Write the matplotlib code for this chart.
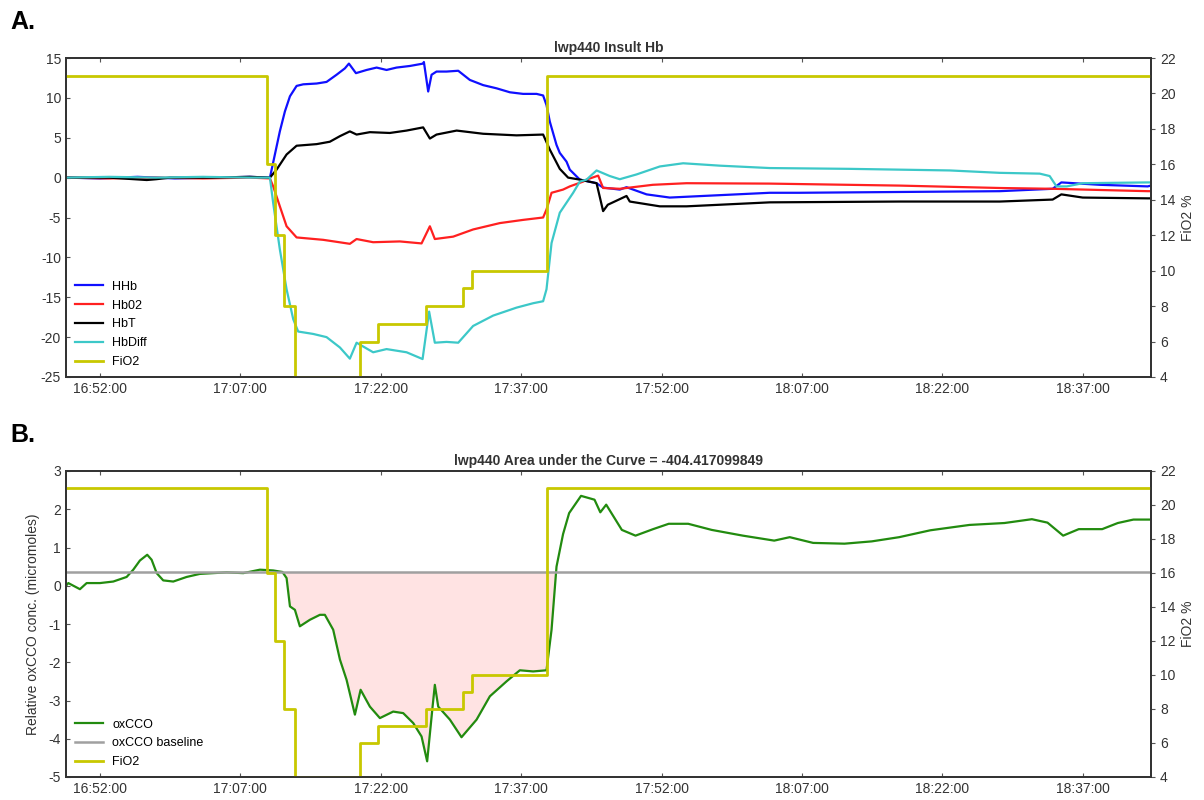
import numpy as np
import pandas as pd
import matplotlib
matplotlib.use('Agg')
import matplotlib.pyplot as plt
import matplotlib.dates as mdates

plt.rcParams['font.family'] = ['Liberation Sans', 'DejaVu Sans']
plt.rcParams['axes.unicode_minus'] = False

# время отсчитываем в минутах от 16:48:00
t0 = pd.Timestamp('2016-01-01 16:48:00')

# FiO2, ступеньки (минута начала ступени, значение %)
fio2_t = [0.37, 21.86, 22.72, 23.71, 24.80, 31.77, 33.74, 38.81, 42.80, 43.76, 51.77, 116.3]
fio2_v = [21, 16, 12, 8, 4, 6, 7, 8, 9, 10, 21, 21]

# HHb
hhb_t = [0.37, 4.0, 8.0, 12.0, 16.0, 20.0, 22.16, 22.69, 23.22, 23.76, 24.30, 25.01, 25.72,
         27.15, 28.21, 29.28, 30.17, 30.60, 31.35, 32.49, 33.56, 34.62, 35.69, 37.11, 38.53,
         38.61, 39.07, 39.43, 39.96, 41.03, 42.28, 43.52, 44.94, 46.37, 47.80, 49.21, 50.65,
         51.35, 51.71, 52.07, 52.78, 53.13, 53.85, 54.20, 55.27, 57.06, 57.76, 59.54, 60.26,
         62.40, 64.88, 68.41, 72.01, 75.57, 78.78, 89.46, 100.13, 105.79, 106.72, 110.82,
         115.94, 116.3]
hhb_v = [0.0, -0.1, 0.1, -0.1, 0.0, 0.1, 0.0, 2.9, 5.8, 8.3, 10.2, 11.5, 11.7,
         11.8, 12.0, 12.9, 13.7, 14.3, 13.1, 13.5, 13.8, 13.5, 13.8, 14.0, 14.3,
         14.5, 10.8, 12.9, 13.3, 13.3, 13.4, 12.25, 11.6, 11.2, 10.7, 10.5, 10.5,
         10.3, 9.1, 7.0, 4.1, 3.1, 2.0, 1.0, -0.25, -0.7, -1.25, -1.5, -1.2,
         -2.1, -2.5, -2.3, -2.1, -1.9, -1.9, -1.8, -1.7, -1.4, -0.6, -0.9,
         -1.1, -1.0]

# HbO2
hbo2_t = [0.37, 5.0, 10.0, 15.0, 20.0, 22.16, 22.51, 23.22, 23.94, 25.01, 27.85, 29.0,
          30.70, 31.42, 33.19, 36.04, 38.36, 39.25, 39.78, 41.74, 43.87, 46.73, 49.21,
          51.35, 51.71, 52.25, 53.48, 54.20, 55.62, 55.99, 57.23, 57.76, 59.54, 63.07,
          66.67, 75.57, 89.46, 100.13, 105.79, 115.94, 116.3]
hbo2_v = [0.0, -0.1, 0.0, -0.1, 0.0, -0.1, -1.1, -3.6, -6.1, -7.5, -7.8, -8.0,
          -8.3, -7.7, -8.1, -8.0, -8.25, -6.1, -7.7, -7.4, -6.5, -5.7, -5.3,
          -5.0, -4.0, -1.9, -1.5, -1.1, -0.5, -0.25, 0.25, -1.3, -1.4, -0.9,
          -0.7, -0.75, -1.0, -1.3, -1.4, -1.7, -1.7]

# HbT
hbt_t = [0.37, 5.0, 9.0, 10.0, 11.5, 16.0, 20.0, 22.16, 22.87, 23.94, 25.01, 27.15, 28.56,
         29.64, 30.70, 31.42, 32.84, 34.97, 36.76, 38.53, 39.25, 39.96, 42.11, 44.94,
         48.51, 51.35, 52.07, 53.13, 54.02, 55.27, 57.06, 57.76, 58.26, 60.26, 60.61,
         63.82, 66.67, 70.23, 75.57, 89.46, 100.13, 105.79, 106.72, 109.0, 115.94, 116.3]
hbt_v = [0.0, 0.0, -0.3, -0.2, 0.0, 0.0, 0.1, 0.0, 1.0, 2.9, 4.0, 4.2, 4.5,
         5.2, 5.8, 5.4, 5.7, 5.6, 5.9, 6.3, 4.9, 5.4, 5.9, 5.5,
         5.3, 5.4, 3.5, 1.1, 0.0, -0.25, -0.7, -4.2, -3.4, -2.3, -3.0,
         -3.6, -3.6, -3.4, -3.1, -3.0, -3.0, -2.75, -2.1, -2.5, -2.6, -2.6]

# HbDiff
hbdiff_t = [0.37, 5.0, 10.0, 15.0, 20.0, 22.16, 22.51, 23.22, 23.94, 24.65, 25.18, 26.78,
            28.21, 29.64, 30.70, 31.42, 33.19, 34.62, 36.76, 38.47, 39.17, 39.78, 41.03,
            42.28, 43.87, 46.01, 48.51, 50.28, 51.35, 51.71, 52.25, 53.13, 54.56, 55.27,
            55.99, 57.06, 58.47, 59.54, 61.33, 63.82, 66.31, 70.23, 75.57, 84.1, 94.8,
            100.13, 104.41, 105.47, 106.2, 107.3, 109.0, 115.94, 116.3]
hbdiff_v = [0.0, 0.1, 0.0, 0.1, 0.0, 0.0, -3.2, -9.0, -14.0, -17.75, -19.3, -19.6,
            -20.0, -21.3, -22.7, -20.7, -21.9, -21.5, -21.9, -22.75, -16.8, -20.7, -20.6,
            -20.7, -18.6, -17.3, -16.3, -15.75, -15.5, -14.0, -8.2, -4.4, -1.9, -0.5,
            -0.25, 0.9, 0.2, -0.2, 0.4, 1.4, 1.8, 1.5, 1.2, 1.1, 0.9,
            0.6, 0.5, 0.2, -1.1, -1.1, -0.7, -0.6, -0.6]

# oxCCO
ox_t = [0.37, 0.62, 1.86, 2.58, 4.0, 5.42, 6.85, 7.56, 8.27, 9.05, 9.52, 10.06, 10.76, 11.83,
        13.26, 14.68, 17.53, 19.31, 21.09, 22.51, 23.5, 23.94, 24.30, 24.83, 25.36, 26.43,
        27.50, 28.03, 28.92, 29.64, 30.35, 31.24, 31.85, 32.84, 33.91, 35.33, 36.40,
        37.47, 38.36, 38.96, 39.54, 39.78, 40.14, 41.39, 42.63, 44.24, 45.66, 47.44,
        48.86, 50.28, 51.71, 52.25, 52.78, 53.48, 54.13, 55.4, 56.84, 57.46, 58.09,
        59.76, 61.22, 63.10, 64.77, 66.85, 69.36, 72.69, 76.04, 77.70, 80.20, 83.55,
        86.46, 89.39, 92.72, 96.90, 100.64, 103.57, 105.24, 106.91, 108.58, 111.08,
        112.75, 114.42, 116.3]
ox_v = [0.0, 0.07, -0.09, 0.07, 0.07, 0.11, 0.23, 0.42, 0.66, 0.81, 0.68, 0.33, 0.14, 0.11,
        0.23, 0.31, 0.35, 0.33, 0.42, 0.40, 0.36, 0.2, -0.54, -0.63, -1.06, -0.89,
        -0.76, -0.76, -1.15, -1.93, -2.46, -3.37, -2.72, -3.16, -3.46, -3.29, -3.33,
        -3.59, -3.94, -4.59, -3.16, -2.59, -3.16, -3.5, -3.96, -3.5, -2.89, -2.5,
        -2.21, -2.24, -2.21, -1.15, 0.5, 1.35, 1.9, 2.35, 2.25, 1.92, 2.12,
        1.46, 1.31, 1.48, 1.62, 1.62, 1.46, 1.31, 1.18, 1.27, 1.12, 1.1,
        1.16, 1.27, 1.45, 1.59, 1.64, 1.74, 1.65, 1.31, 1.48, 1.48,
        1.64, 1.73, 1.73]

ox_baseline = 0.36
insult_start, insult_end = 21.86, 53.0
auc = -404.417099849


def to_time(mins):
    return (t0 + pd.to_timedelta(np.array(mins), unit='min')).to_numpy()


def style_axes(ax, ax2):
    for a in (ax, ax2):
        for s in a.spines.values():
            s.set_color('#333333')
            s.set_linewidth(1.3)
    ax.tick_params(axis='both', direction='in', length=3, width=0.8, colors='#555555',
                   labelcolor='#333333', labelsize=10, top=True)
    ax2.tick_params(axis='y', direction='out', length=3, width=0.8, colors='#555555',
                    labelcolor='#333333', labelsize=10)
    ax.xaxis.set_major_locator(mdates.MinuteLocator(byminute=[7, 22, 37, 52]))
    ax.xaxis.set_major_formatter(mdates.DateFormatter('%H:%M:%S'))
    ax.set_xlim(to_time([0.37])[0], to_time([116.3])[0])
    ax2.set_ylim(4, 22)
    ax2.set_yticks(range(4, 23, 2))
    ax2.set_ylabel('FiO2 %', fontsize=10, color='#333333', labelpad=4)


fig = plt.figure(figsize=(12.04, 8.0), dpi=100)
ax1 = fig.add_axes([0.0548, 0.52875, 0.9012, 0.39875])
ax3 = fig.add_axes([0.0548, 0.02875, 0.9012, 0.3825])

# панель A: гемоглобин
ax2 = ax1.twinx()
h1, = ax1.plot(to_time(hhb_t), hhb_v, color='#1010ff', lw=1.6, label='HHb')
h2, = ax1.plot(to_time(hbo2_t), hbo2_v, color='#ff2020', lw=1.6, label='Hb02')
h3, = ax1.plot(to_time(hbt_t), hbt_v, color='black', lw=1.6, label='HbT')
h4, = ax1.plot(to_time(hbdiff_t), hbdiff_v, color='#3cc8c8', lw=1.6, label='HbDiff')
h5, = ax2.plot(to_time(fio2_t), fio2_v, color='#c8c800', lw=2.0, drawstyle='steps-post',
               label='FiO2')
ax1.set_ylim(-25, 15)
ax1.set_yticks(range(-25, 16, 5))
ax1.set_title('lwp440 Insult Hb', fontsize=10, fontweight='bold', color='#333333', pad=4)
style_axes(ax1, ax2)
ax1.legend(handles=[h1, h2, h3, h4, h5], loc='lower left', frameon=False, fontsize=9,
           handlelength=2.3, handletextpad=0.7, labelspacing=0.55, borderaxespad=0.3)

# панель B: oxCCO и площадь под кривой
ax4 = ax3.twinx()
tx = to_time(ox_t)
ox = np.array(ox_v)
tm = np.array(ox_t)
ax3.fill_between(tx, ox, ox_baseline,
                 where=(tm >= insult_start) & (tm <= insult_end) & (ox < ox_baseline),
                 interpolate=True, color='#ffe3e3', lw=0)
g1, = ax3.plot(tx, ox_v, color='#228b0f', lw=1.6, label='oxCCO')
g2 = ax3.axhline(ox_baseline, color='#a0a0a0', lw=1.8, label='oxCCO baseline')
g3, = ax4.plot(to_time(fio2_t), fio2_v, color='#c8c800', lw=2.0, drawstyle='steps-post',
               label='FiO2')
ax3.set_ylim(-5, 3)
ax3.set_yticks(range(-5, 4))
ax3.set_ylabel('Relative oxCCO conc. (micromoles)', fontsize=10, color='#333333', labelpad=6)
ax3.set_title('lwp440 Area under the Curve = ' + str(auc), fontsize=10, fontweight='bold',
              color='#333333', pad=4)
style_axes(ax3, ax4)
ax3.legend(handles=[g1, g2, g3], loc='lower left', frameon=False, fontsize=9,
           handlelength=2.3, handletextpad=0.7, labelspacing=0.55, borderaxespad=0.3)

fig.text(0.009, 0.987, 'A.', fontsize=18, fontweight='bold', va='top')
fig.text(0.009, 0.471, 'B.', fontsize=18, fontweight='bold', va='top')

fig.savefig('out.png', dpi=100, facecolor='white')
